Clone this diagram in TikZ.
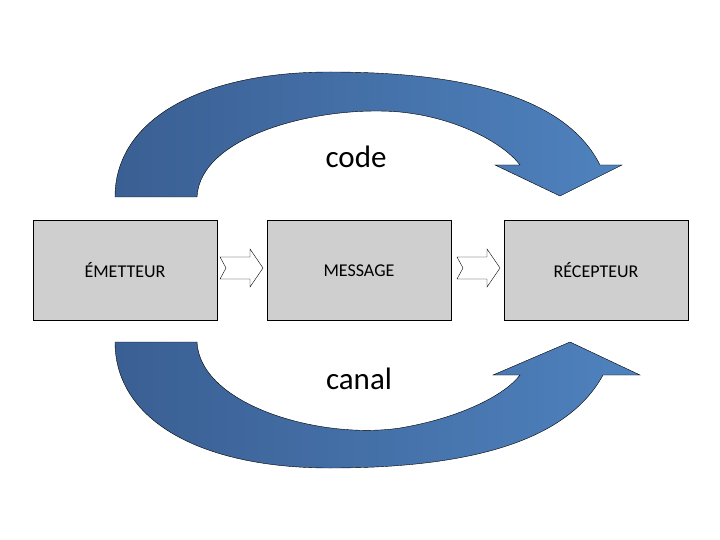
\documentclass[tikz,border=0pt]{standalone}
\usepackage{fontspec}
\setmainfont{Carlito}
\begin{document}
\begin{tikzpicture}[x=1pt,y=-1pt,
  box/.style={draw=black,line width=1pt,fill=black!19,minimum width=184pt,minimum height=99pt,inner sep=0pt,font=\fontsize{18}{21}\selectfont}]
\useasboundingbox (0,0) rectangle (720,540);
\definecolor{dk}{HTML}{3A5F93}\definecolor{lt}{HTML}{4F82BE}
\node[box] (e) at (125,270.5) {ÉMETTEUR};
\node[box] (m) at (359,270.5) {MESSAGE};
\node[box] (r) at (596,270.5) {RÉCEPTEUR};
\draw[thin,left color=dk,right color=lt] (115,197) -- (197,197) .. controls (200,135) and (320,105) .. (400,112) .. controls (460,118) and (505,145) .. (520,165) -- (495,165) -- (560,196) -- (622,165) -- (600,165) .. controls (565,95) and (460,72) .. (330,72) .. controls (200,72) and (115,120) .. (115,197) -- cycle;
\draw[thin,left color=dk,right color=lt] (115,342) -- (197,342) .. controls (200,405) and (320,440) .. (400,428) .. controls (460,418) and (505,395) .. (520,375) -- (493,375) -- (570,342) -- (640,375) -- (603,375) .. controls (565,445) and (460,468) .. (330,468) .. controls (200,468) and (115,420) .. (115,342) -- cycle;
\draw[thin,fill=white] (220,257) -- (250,257) -- (250,249) -- (263,268) -- (250,287) -- (250,279) -- (220,279) -- (226,268) -- cycle;
\draw[thin,fill=white] (457,257) -- (487,257) -- (487,249) -- (500,268) -- (487,287) -- (487,279) -- (457,279) -- (463,268) -- cycle;
\node[font=\fontsize{31}{36}\selectfont] (c) at (356,157) {code};
\node[font=\fontsize{31}{36}\selectfont] (k) at (359,379) {canal};
\end{tikzpicture}
\end{document}
